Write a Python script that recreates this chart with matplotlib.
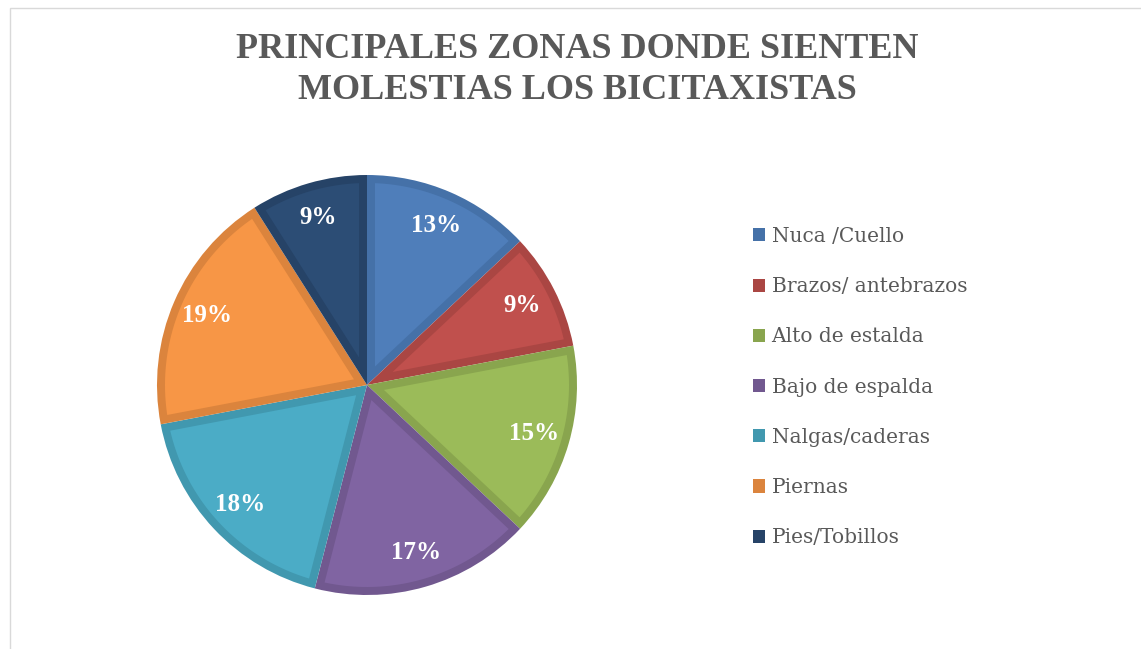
import numpy as np
import matplotlib.pyplot as plt
from matplotlib.patches import Rectangle, Patch, Polygon

# data
zonas = ['Nuca /Cuello', 'Brazos/ antebrazos', 'Alto de estalda', 'Bajo de espalda',
         'Nalgas/caderas', 'Piernas', 'Pies/Tobillos']
porcentajes = [13, 9, 15, 17, 18, 19, 9]
titulo = 'PRINCIPALES ZONAS DONDE SIENTEN\nMOLESTIAS LOS BICITAXISTAS'

relleno = ['#4F7EBA', '#C0504D', '#9BBB59', '#8064A2', '#4BACC6', '#F79646', '#2C4D75']
borde = ['#4571A8', '#AA4643', '#89A54E', '#71588F', '#4198AF', '#DB843D', '#264367']

W, H = 1141, 649
plt.rcParams['font.family'] = ['Liberation Serif', 'DejaVu Serif']

fig = plt.figure(figsize=(W / 100, H / 100), dpi=100)

# light chart-area border (cut off on right and bottom)
fig.patches.append(Rectangle((10 / W, -0.05), 1.1, 1 - 8 / H + 0.05, transform=fig.transFigure,
                             fill=False, edgecolor='#D9D9D9', linewidth=1))

# pie axes: center (367, 385) px, radius 210 px, limits +-1.25
cx, cy, r_px = 367, 385, 210
side = 2 * 1.25 * r_px
ax = fig.add_axes([(cx - side / 2) / W, (H - cy - side / 2) / H, side / W, side / H])

wedges, texts, autotexts = ax.pie(porcentajes, colors=borde, startangle=90, counterclock=False,
                                  autopct='%1.0f%%', pctdistance=0.83,
                                  textprops=dict(color='white', fontsize=18, fontweight='bold'))


def inset_wedge(w, d):
    # lighter inner part of a wedge, leaving a border of width d
    t1, t2 = np.radians(w.theta1), np.radians(w.theta2)
    cxw, cyw = w.center
    r = w.r
    half = (t2 - t1) / 2
    mid = t1 + half
    apex_d = d / np.sin(half)
    apex = (cxw + apex_d * np.cos(mid), cyw + apex_d * np.sin(mid))
    ri = r - d
    da = np.arcsin(d / ri)
    ang = np.linspace(t1 + da, t2 - da, 80)
    pts = [apex] + [(cxw + ri * np.cos(a), cyw + ri * np.sin(a)) for a in ang]
    return pts


for w, c in zip(wedges, relleno):
    w.set_linewidth(0)
    ax.add_patch(Polygon(inset_wedge(w, 8 / r_px), closed=True, facecolor=c,
                         edgecolor='none', zorder=w.get_zorder() + 0.1))
for t in autotexts:
    t.set_zorder(5)
ax.set_xlim(-1.25, 1.25)
ax.set_ylim(-1.25, 1.25)
ax.set_aspect('equal')

fig.text(0.506, 1 - 70 / H, titulo, ha='center', va='center', fontsize=26, fontweight='bold',
         color='#595959', linespacing=1.32)

handles = [Patch(facecolor=c, edgecolor='none') for c in borde]
fig.legend(handles, zonas, loc='upper left', bbox_to_anchor=(753 / W, 1 - 227 / H),
           frameon=False, prop=dict(family='DejaVu Serif', size=14.5), labelcolor='#595959',
           handlelength=0.62, handleheight=0.62, handletextpad=0.3, labelspacing=1.55,
           borderaxespad=0, borderpad=0)

fig.savefig('out.png', dpi=100)
